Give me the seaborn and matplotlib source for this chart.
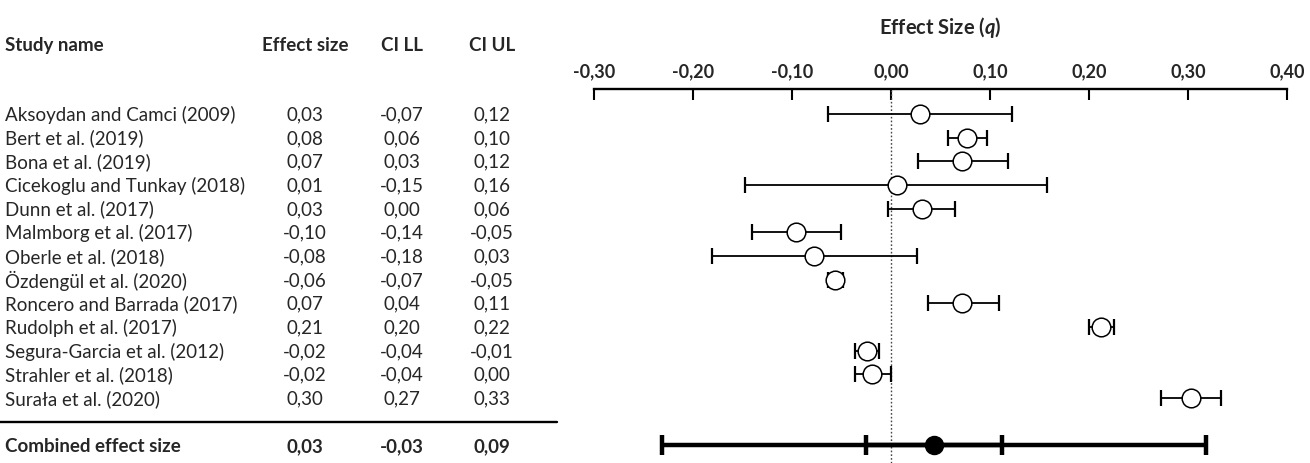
import matplotlib
matplotlib.use("Agg")
import matplotlib.pyplot as plt
import matplotlib.transforms as mtransforms
from matplotlib.lines import Line2D
import pandas as pd
import seaborn as sns

# data
studies = ["Aksoydan and Camci (2009)", "Bert et al. (2019)", "Bona et al. (2019)",
           "Cicekoglu and Tunkay (2018)", "Dunn et al. (2017)", "Malmborg et al. (2017)",
           "Oberle et al. (2018)", "Özdengül et al. (2020)", "Roncero and Barrada (2017)",
           "Rudolph et al. (2017)", "Segura-Garcia et al. (2012)", "Strahler et al. (2018)",
           "Surała et al. (2020)"]
effect = [0.03, 0.08, 0.07, 0.01, 0.03, -0.10, -0.08, -0.06, 0.07, 0.21, -0.02, -0.02, 0.30]
ci_ll = [-0.07, 0.06, 0.03, -0.15, 0.00, -0.14, -0.18, -0.07, 0.04, 0.20, -0.04, -0.04, 0.27]
ci_ul = [0.12, 0.10, 0.12, 0.16, 0.06, -0.05, 0.03, -0.05, 0.11, 0.22, -0.01, 0.00, 0.33]

# plotted positions of points that differ slightly from the rounded table
plot_effect = [0.029, 0.077, 0.072, 0.006, 0.031, -0.096, -0.078, -0.057, 0.072, 0.212, -0.024, -0.019, 0.303]
plot_ll = [-0.064, 0.058, 0.027, -0.147, -0.003, -0.140, -0.181, -0.064, 0.037, 0.200, -0.036, -0.036, 0.273]
plot_ul = [0.122, 0.097, 0.118, 0.158, 0.065, -0.051, 0.026, -0.048, 0.109, 0.225, -0.012, 0.000, 0.333]

combined_label = "Combined effect size"
combined_table = [0.03, -0.03, 0.09]
combined_point = 0.043
combined_ci = [-0.025, 0.112]
combined_pi = [-0.231, 0.318]

x_ticks = [-0.30, -0.20, -0.10, 0.00, 0.10, 0.20, 0.30, 0.40]

W, H = 1310, 464


def fmt(v):
    return f"{v:.2f}".replace(".", ",")


def main():
    sns.set_theme(style="white")
    plt.rcParams["font.family"] = ["Lato", "DejaVu Sans"]
    plt.rcParams["mathtext.fontset"] = "custom"
    plt.rcParams["mathtext.bfit"] = "Lato:bold:italic"

    df = pd.DataFrame({"study": studies, "effect": plot_effect, "ll": plot_ll, "ul": plot_ul})
    df["row"] = range(len(df))
    comb_row = len(df) + 1

    fig = plt.figure(figsize=(W / 100, H / 100), dpi=100)
    # row 0 at y=115px, 23.67px per row; axis line at y=90px
    row0, step = 115, 23.67
    top_px, x0_px, x1_px = 90, 594, 1287
    ax = fig.add_axes([x0_px / W, 0, (x1_px - x0_px) / W, 1 - top_px / H])
    ax.set_xlim(-0.30, 0.40)
    ax.set_ylim((H - row0) / step, (top_px - row0) / step)

    ax.axvline(0, color="#444444", ls=(0, (1.2, 1.5)), lw=1.0, zorder=1)

    # study CIs
    ax.errorbar(df["effect"], df["row"],
                xerr=[df["effect"] - df["ll"], df["ul"] - df["effect"]],
                fmt="none", ecolor="black", elinewidth=1.3, capsize=6, capthick=1.6, zorder=2)
    sns.scatterplot(data=df, x="effect", y="row", marker="o", s=180,
                    facecolor="white", edgecolor="black", linewidth=1.1, ax=ax, zorder=3)

    # combined: prediction interval + CI
    ax.errorbar([combined_point], [comb_row],
                xerr=[[combined_point - combined_pi[0]], [combined_pi[1] - combined_point]],
                fmt="none", ecolor="black", elinewidth=3.2, capsize=7, capthick=3.2, zorder=2)
    ax.errorbar([combined_point], [comb_row],
                xerr=[[combined_point - combined_ci[0]], [combined_ci[1] - combined_point]],
                fmt="none", ecolor="black", elinewidth=3.2, capsize=7, capthick=3.2, zorder=2)
    ax.plot([combined_point], [comb_row], marker="o", ms=13, color="black", zorder=4)

    # axis on top
    for s in ["left", "right", "bottom"]:
        ax.spines[s].set_visible(False)
    ax.spines["top"].set_color("black")
    ax.spines["top"].set_linewidth(1.7)
    ax.xaxis.set_ticks_position("top")
    ax.set_xticks(x_ticks)
    ax.set_xticklabels([fmt(t) for t in x_ticks], fontweight="bold", fontsize=13)
    ax.tick_params(axis="x", direction="in", length=8, width=1.5, color="black", pad=7, top=True)
    ax.set_yticks([])
    ax.set_xlabel("")
    ax.set_ylabel("")
    ax.grid(False)

    ax.text(0.5, (28 - row0) / step, "Effect Size ($\\bfit{q}$)",
            transform=mtransforms.blended_transform_factory(ax.transAxes, ax.transData),
            ha="center", va="center", fontsize=14.5, fontweight="bold")

    # table on the left
    tr = mtransforms.blended_transform_factory(fig.transFigure, ax.transData)
    head_y = (46 - row0) / step
    col_x = [305 / W, 402 / W, 492 / W]
    fs = 13.5
    ax.text(5 / W, head_y, "Study name", transform=tr, ha="left", va="center",
            fontsize=fs, fontweight="bold")
    for cx, h in zip(col_x, ["Effect size", "CI LL", "CI UL"]):
        ax.text(cx, head_y, h, transform=tr, ha="center", va="center",
                fontsize=fs, fontweight="bold")

    for i, name in enumerate(studies):
        ax.text(5 / W, i, name, transform=tr, ha="left", va="center", fontsize=fs)
        for cx, v in zip(col_x, [effect[i], ci_ll[i], ci_ul[i]]):
            ax.text(cx, i, fmt(v), transform=tr, ha="center", va="center", fontsize=fs)

    ax.text(5 / W, comb_row, combined_label, transform=tr, ha="left", va="center",
            fontsize=fs, fontweight="bold")
    for cx, v in zip(col_x, combined_table):
        ax.text(cx, comb_row, fmt(v), transform=tr, ha="center", va="center",
                fontsize=fs, fontweight="bold")

    sep = Line2D([0, 557 / W], [len(df), len(df)], transform=tr, color="black",
                 lw=1.7, clip_on=False)
    ax.add_line(sep)

    fig.savefig("out.png", dpi=100)


if __name__ == "__main__":
    main()
